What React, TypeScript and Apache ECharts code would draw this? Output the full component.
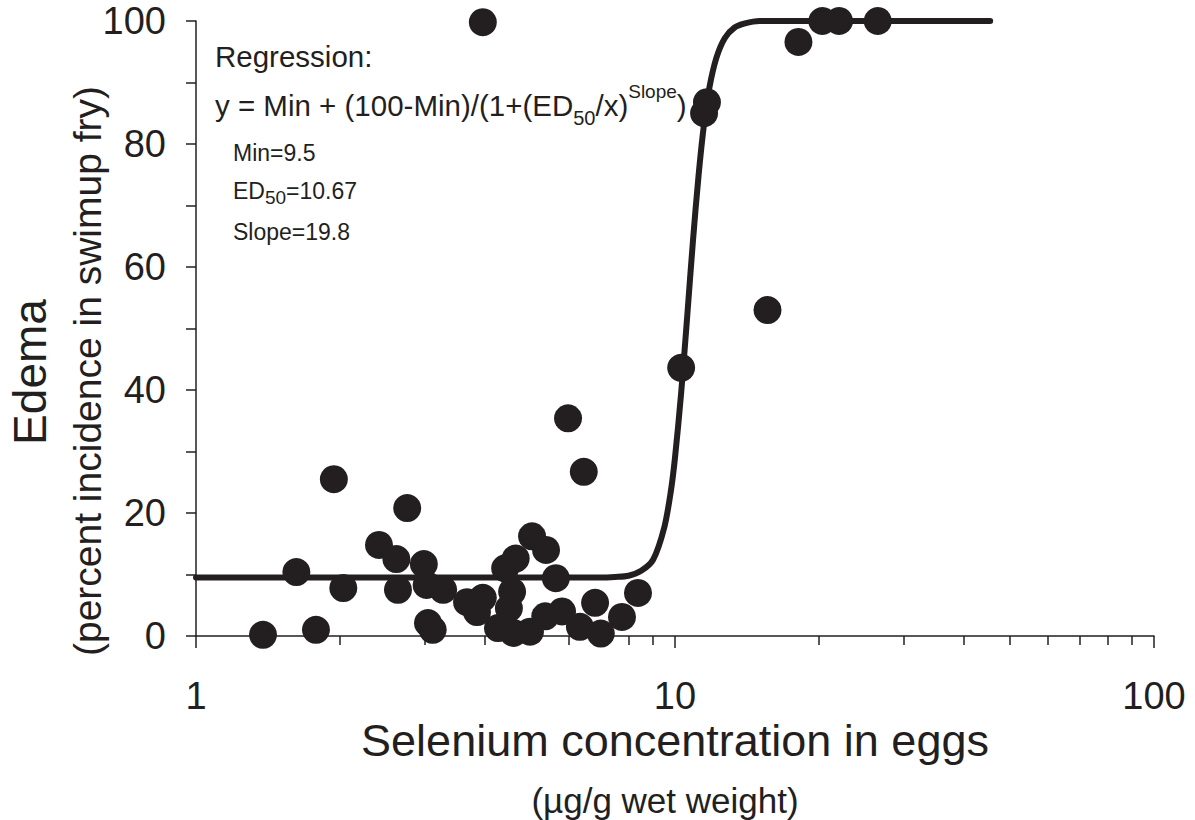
import React, { useEffect, useRef } from 'react';
import * as echarts from 'echarts';

// Observed data: selenium concentration in eggs (µg/g ww) vs edema incidence (%)
const seleniumX = [
  1.38, 1.62, 1.78, 1.94, 2.03, 2.41, 2.62, 2.64, 2.76, 2.99, 3.03, 3.05, 3.12, 3.28,
  3.68, 3.86, 3.97, 3.97, 4.27, 4.42, 4.5, 4.57, 4.6, 4.65, 4.98, 5.03, 5.36, 5.38,
  5.64, 5.81, 5.98, 6.33, 6.45, 6.81, 7.0, 7.75, 8.37,
  10.3, 11.5, 11.66, 15.6, 18.1, 20.3, 22.0, 26.5,
];
const edemaY = [
  0.2, 10.4, 1.0, 25.5, 7.8, 14.8, 12.5, 7.5, 20.8, 11.7, 8.3, 2.1, 1.0, 7.5,
  5.5, 3.9, 6.2, 99.8, 1.3, 11.0, 4.5, 7.2, 0.5, 12.6, 0.7, 16.2, 3.2, 14.0,
  9.4, 4.0, 35.4, 1.5, 26.7, 5.4, 0.4, 3.1, 7.0,
  43.6, 85.0, 86.8, 53.0, 96.6, 100, 100, 100,
];

// Regression curve
const fitX = [1, 7, 7.5, 8, 8.5, 9, 9.5, 9.8, 10, 10.3, 10.6, 10.9, 11.2, 11.5, 11.8, 12.2, 12.7, 13.3, 14, 15, 45.5];
const fitY = [9.5, 9.5, 9.6, 9.8, 10.6, 12.4, 17.7, 23.5, 29, 39.5, 51.8, 64.2, 74.9, 83.3, 89.2, 94, 97.2, 98.9, 99.6, 100, 100];

// Axis ticks
const xMajorTicks = [1, 10, 100];
const xMinorTicks = [2, 3, 4, 5, 6, 7, 8, 9, 20, 30, 40, 50, 60, 70, 80, 90];
const yMin = 0;
const yMax = 100;
const yTickStep = 10;
const yLabelStep = 20;

const ink = '#231f20';
const font = '"Liberation Sans", Arial, Helvetica, sans-serif';

export default function App() {
  const ref = useRef<HTMLDivElement>(null);

  useEffect(() => {
    if (!ref.current) return;
    const chart = echarts.init(ref.current, null, { renderer: 'svg' });

    const tickLine = { color: ink, width: 1.5 };

    chart.setOption({
      animation: false,
      backgroundColor: '#ffffff',
      grid: { left: 196, top: 21, width: 958, height: 615, containLabel: false, outerBoundsMode: 'none' },
      xAxis: [
        {
          type: 'log',
          logBase: 10,
          min: 1,
          max: 100,
          position: 'bottom',
          axisLine: { show: true, lineStyle: tickLine },
          axisTick: { show: true, inside: false, length: 12, lineStyle: tickLine, customValues: xMajorTicks },
          axisLabel: {
            show: true,
            customValues: xMajorTicks,
            margin: 41,
            fontSize: 38,
            color: ink,
            fontFamily: font,
          },
          splitLine: { show: false },
          minorTick: { show: false },
        },
        {
          type: 'log',
          logBase: 10,
          min: 1,
          max: 100,
          position: 'bottom',
          axisLine: { show: false },
          axisTick: { show: true, inside: false, length: 9, lineStyle: tickLine, customValues: xMinorTicks },
          axisLabel: { show: false },
          splitLine: { show: false },
        },
      ],
      yAxis: {
        type: 'value',
        min: yMin,
        max: yMax,
        interval: yTickStep,
        axisLine: { show: true, lineStyle: tickLine },
        axisTick: { show: true, inside: false, length: 10, lineStyle: tickLine },
        axisLabel: {
          show: true,
          margin: 30,
          fontSize: 38,
          color: ink,
          fontFamily: font,
          formatter: (v: number) => (v % yLabelStep === 0 ? String(v) : ''),
        },
        splitLine: { show: false },
      },
      series: [
        {
          type: 'line',
          data: fitX.map((x, i) => [x, fitY[i]]),
          showSymbol: false,
          symbol: 'none',
          smooth: 0.3,
          lineStyle: { color: ink, width: 6, cap: 'round', join: 'round' },
          z: 2,
        },
        {
          type: 'scatter',
          data: seleniumX.map((x, i) => [x, edemaY[i]]),
          symbol: 'circle',
          symbolSize: 28,
          itemStyle: { color: ink, opacity: 1 },
          z: 3,
        },
      ],
      graphic: [
        {
          type: 'text',
          x: 30,
          y: 372,
          rotation: Math.PI / 2,
          style: { text: 'Edema', fontSize: 46, fontFamily: font, fill: ink, align: 'center', verticalAlign: 'middle' },
        },
        {
          type: 'text',
          x: 87,
          y: 371,
          rotation: Math.PI / 2,
          style: {
            text: '(percent incidence in swimup fry)',
            fontSize: 39,
            fontFamily: font,
            fill: ink,
            align: 'center',
            verticalAlign: 'middle',
          },
        },
        {
          type: 'text',
          x: 675,
          y: 740,
          style: {
            text: 'Selenium concentration in eggs',
            fontSize: 45,
            fontFamily: font,
            fill: ink,
            align: 'center',
            verticalAlign: 'middle',
          },
        },
        {
          type: 'text',
          x: 665,
          y: 800,
          style: {
            text: '(µg/g wet weight)',
            fontSize: 35,
            fontFamily: font,
            fill: ink,
            align: 'center',
            verticalAlign: 'middle',
          },
        },
        {
          type: 'text',
          x: 215,
          y: 56,
          style: { text: 'Regression:', fontSize: 29.5, fontFamily: font, fill: ink, align: 'left', verticalAlign: 'middle' },
        },
        {
          type: 'text',
          x: 215,
          y: 105,
          style: {
            text: '{a|y = Min + (100-Min)/(1+(ED}{sub|50}{a|/x)}{sup|Slope}{a|)}',
            fontFamily: font,
            fill: ink,
            align: 'left',
            verticalAlign: 'middle',
            rich: {
              a: { fontSize: 29.5, lineHeight: 46, fontFamily: font, fill: ink, verticalAlign: 'middle' },
              sub: { fontSize: 20, lineHeight: 28, fontFamily: font, fill: ink, verticalAlign: 'bottom' },
              sup: { fontSize: 19, lineHeight: 22, fontFamily: font, fill: ink, verticalAlign: 'top' },
            },
          },
        },
        {
          type: 'text',
          x: 233,
          y: 153,
          style: { text: 'Min=9.5', fontSize: 23, fontFamily: font, fill: ink, align: 'left', verticalAlign: 'middle' },
        },
        {
          type: 'text',
          x: 233,
          y: 191,
          style: {
            text: '{a|ED}{sub|50}{a|=10.67}',
            fontFamily: font,
            fill: ink,
            align: 'left',
            verticalAlign: 'middle',
            rich: {
              a: { fontSize: 23, lineHeight: 32, fontFamily: font, fill: ink, verticalAlign: 'middle' },
              sub: { fontSize: 19, lineHeight: 22, fontFamily: font, fill: ink, verticalAlign: 'bottom' },
            },
          },
        },
        {
          type: 'text',
          x: 233,
          y: 232,
          style: { text: 'Slope=19.8', fontSize: 23, fontFamily: font, fill: ink, align: 'left', verticalAlign: 'middle' },
        },
      ],
    });

    return () => chart.dispose();
  }, []);

  return (
    <div
      ref={ref}
      style={{ position: 'fixed', left: 0, top: 0, width: 1195, height: 820, background: '#ffffff' }}
    />
  );
}
